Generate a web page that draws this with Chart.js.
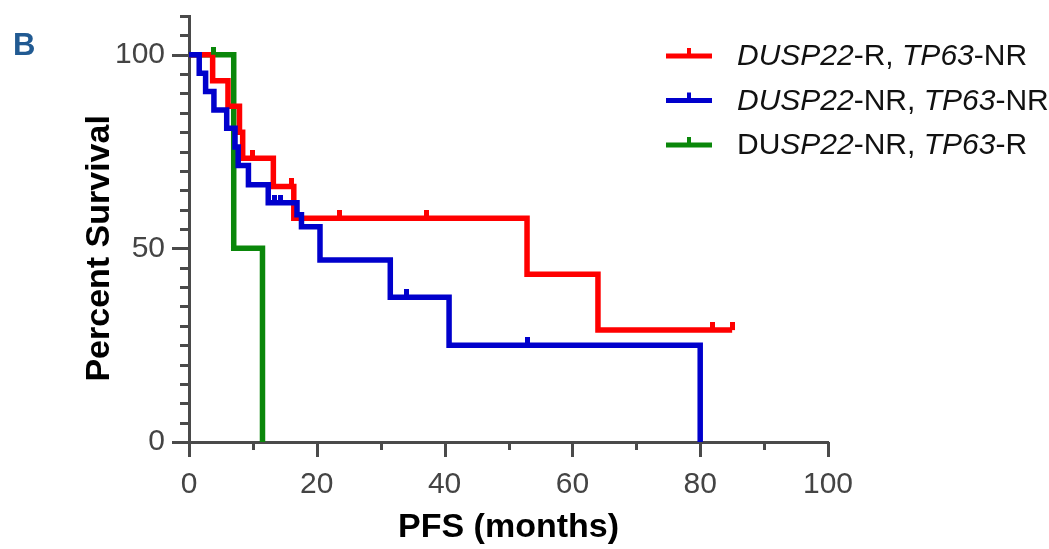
<!DOCTYPE html>
<html>
<head>
<meta charset="utf-8">
<script src="https://cdn.jsdelivr.net/npm/chart.js@4.4.1/dist/chart.umd.min.js"></script>
<style>
  html, body { margin: 0; padding: 0; background: #fff; }
  #wrap { width: 1049px; height: 549px; }
</style>
</head>
<body>
<div id="wrap"><canvas id="km" width="1049" height="549"></canvas></div>
<script>
// PFS Kaplan-Meier curves
const xTickValues = [0, 20, 40, 60, 80, 100];
const yTickValues = [0, 50, 100];

// DUSP22-R, TP63-NR
const redTimes = [0, 3.7, 6.1, 7.9, 8.4, 13.2, 16.4, 52.9, 64.0, 85.0];
const redSurv  = [100, 93.3, 86.7, 80.0, 73.3, 66.0, 57.8, 43.3, 28.9, 28.9];
const redCensorTimes = [10.0, 16.1, 23.6, 37.2, 82.0, 85.0];
const redCensorSurv  = [73.3, 66.0, 57.8, 57.8, 28.9, 28.9];

// DUSP22-NR, TP63-NR
const blueTimes = [0, 1.6, 2.6, 3.9, 5.9, 7.2, 7.7, 9.3, 12.4, 16.9, 17.6, 20.5, 31.5, 40.7, 80.0];
const blueSurv  = [100, 95.2, 90.5, 85.7, 81.0, 76.2, 71.4, 66.4, 61.8, 58.7, 55.6, 47.0, 37.4, 25.0, 0];
const blueCensorTimes = [13.4, 14.3, 34.1, 52.9];
const blueCensorSurv  = [61.8, 61.8, 37.4, 25.0];

// DUSP22-NR, TP63-R
const greenTimes = [0, 7.0, 11.5];
const greenSurv  = [100, 50, 0];
const greenCensorTimes = [3.9];
const greenCensorSurv  = [100];

const RED = '#ff0000', BLUE = '#0000cc', GREEN = '#0a870a';
const axisColor = '#4a4a4a';
const FONT = '"Liberation Sans", Arial, sans-serif';

function pts(times, vals) {
  return times.map((t, i) => ({ x: t, y: vals[i] }));
}

// censor tick: only the upper half of the image is painted so it sits on top of the line
function censorMark(color) {
  const c = document.createElement('canvas');
  c.width = 5; c.height = 16;
  const g = c.getContext('2d');
  g.fillStyle = color;
  g.fillRect(0, 0, 5, 8);
  return c;
}

function kmLine(label, times, vals, color, order) {
  return {
    label, data: pts(times, vals), borderColor: color, backgroundColor: color,
    borderWidth: 5.5, stepped: 'before', pointRadius: 0, fill: false,
    borderJoinStyle: 'miter', clip: false, order
  };
}
function censorSet(times, vals, color, order) {
  return {
    type: 'scatter', data: pts(times, vals), showLine: false,
    pointStyle: censorMark(color), pointRadius: 3, clip: false, order
  };
}

const legendRows = [
  { color: RED,   parts: [['DUSP22', 1], ['-R, ', 0], ['TP63', 1], ['-NR', 0]] },
  { color: BLUE,  parts: [['DUSP22', 1], ['-NR, ', 0], ['TP63', 1], ['-NR', 0]] },
  { color: GREEN, parts: [['DU', 0], ['SP22', 1], ['-NR, ', 0], ['TP63', 1], ['-R', 0]] }
];

const decor = {
  id: 'decor',
  afterDraw(chart) {
    const ctx = chart.ctx;
    const xs = chart.scales.x, ys = chart.scales.y;
    const area = chart.chartArea;
    ctx.save();
    ctx.strokeStyle = axisColor;
    ctx.lineWidth = 3;
    for (let v = 0; v <= 100; v += 10) {
      const px = Math.round(xs.getPixelForValue(v)) + 0.5;
      const len = v % 20 === 0 ? 15 : 8;
      ctx.beginPath(); ctx.moveTo(px, area.bottom); ctx.lineTo(px, area.bottom + len); ctx.stroke();
    }
    for (let v = 0; v <= 110; v += 5) {
      const py = Math.round(ys.getPixelForValue(v)) + 0.5;
      const len = v % 50 === 0 ? 17 : 9;
      ctx.beginPath(); ctx.moveTo(area.left, py); ctx.lineTo(area.left - len, py); ctx.stroke();
    }
    ctx.restore();

    // y title
    ctx.save();
    ctx.translate(109, ys.getPixelForValue(50));
    ctx.rotate(-Math.PI / 2);
    ctx.font = 'bold 34px ' + FONT;
    ctx.fillStyle = '#000';
    ctx.textAlign = 'center';
    ctx.textBaseline = 'alphabetic';
    ctx.fillText('Percent Survival', 0, 0);
    ctx.restore();

    // panel letter
    ctx.save();
    ctx.font = 'bold 31px ' + FONT;
    ctx.fillStyle = '#215a92';
    ctx.textBaseline = 'alphabetic';
    ctx.fillText('B', 13, 55);
    ctx.restore();

    // legend
    ctx.save();
    legendRows.forEach((row, i) => {
      const y = 56 + i * 44.5;
      ctx.strokeStyle = row.color;
      ctx.fillStyle = row.color;
      ctx.lineWidth = 5;
      ctx.beginPath(); ctx.moveTo(666, y); ctx.lineTo(712, y); ctx.stroke();
      ctx.fillRect(687, y - 8, 4, 8);
      let x = 737;
      ctx.fillStyle = '#111';
      ctx.textBaseline = 'middle';
      row.parts.forEach(([txt, it]) => {
        ctx.font = (it ? 'italic ' : '') + '30px ' + FONT;
        ctx.fillText(txt, x, y + 1);
        x += ctx.measureText(txt).width;
      });
    });
    ctx.restore();
  }
};

new Chart(document.getElementById('km'), {
  type: 'line',
  data: {
    datasets: [
      censorSet(blueCensorTimes, blueCensorSurv, BLUE, 0),
      censorSet(redCensorTimes, redCensorSurv, RED, 1),
      censorSet(greenCensorTimes, greenCensorSurv, GREEN, 2),
      kmLine('DUSP22-NR, TP63-NR', blueTimes, blueSurv, BLUE, 3),
      kmLine('DUSP22-R, TP63-NR', redTimes, redSurv, RED, 4),
      kmLine('DUSP22-NR, TP63-R', greenTimes, greenSurv, GREEN, 5)
    ]
  },
  options: {
    responsive: false,
    animation: false,
    events: [],
    layout: { padding: { top: 16, right: 221, left: 0, bottom: 0 } },
    plugins: { legend: { display: false }, tooltip: { enabled: false } },
    scales: {
      x: {
        type: 'linear', min: 0, max: 100,
        afterFit: s => { s.height = 107; s.paddingLeft = 0; s.paddingRight = 0; },
        afterBuildTicks: s => { s.ticks = xTickValues.map(v => ({ value: v })); },
        grid: { display: false, drawTicks: false },
        border: { color: axisColor, width: 3 },
        ticks: { color: '#444', padding: 25, font: { family: FONT, size: 30 }, maxRotation: 0 },
        title: { display: true, text: 'PFS (months)', color: '#000',
                 font: { family: FONT, size: 34, weight: 'bold' }, padding: { top: 0, bottom: 1 } }
      },
      y: {
        type: 'linear', min: 0, max: 110,
        afterFit: s => { s.width = 189; s.paddingTop = 0; s.paddingBottom = 0; },
        afterBuildTicks: s => { s.ticks = yTickValues.map(v => ({ value: v })); },
        grid: { display: false, drawTicks: false },
        border: { color: axisColor, width: 3 },
        ticks: { color: '#444', padding: 24, font: { family: FONT, size: 30 } }
      }
    }
  },
  plugins: [decor]
});
</script>
</body>
</html>
